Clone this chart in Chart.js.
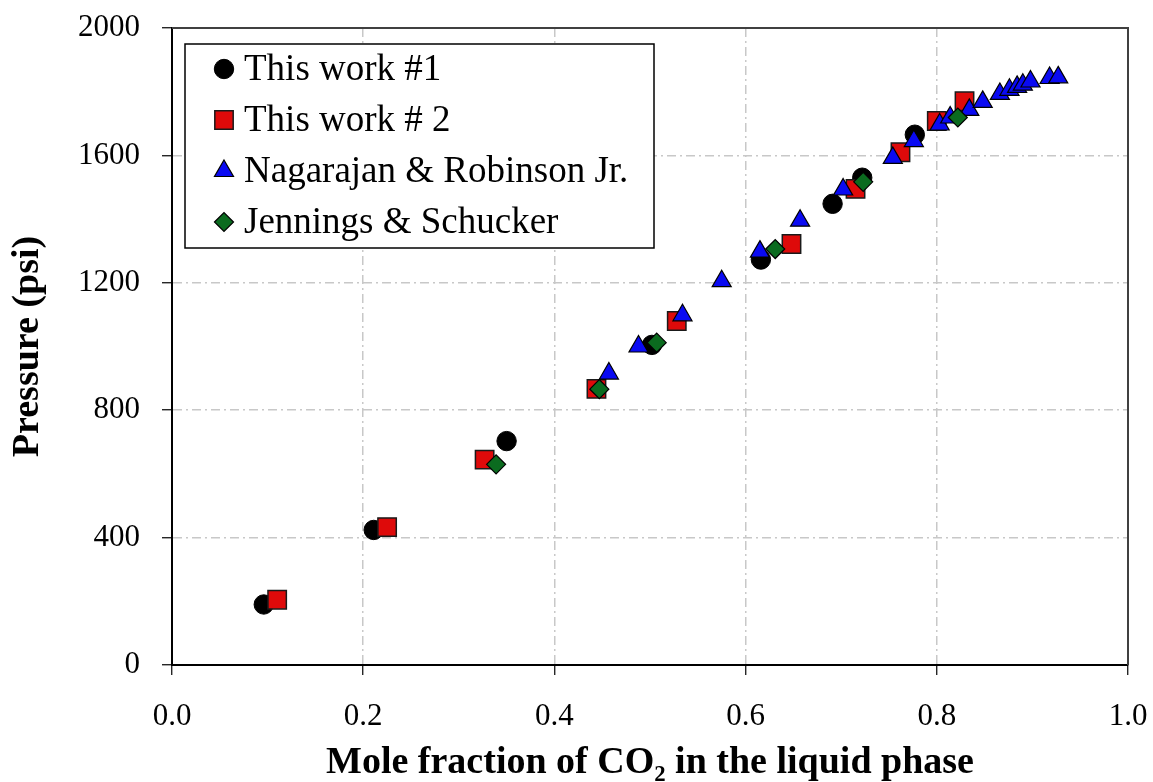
<!DOCTYPE html>
<html lang="en">
<head>
<meta charset="UTF-8">
<title>Pressure vs mole fraction of CO2</title>
<script src="https://cdn.jsdelivr.net/npm/chart.js"></script>
<style>
  html, body { margin: 0; padding: 0; background: #fff; }
  #wrap { width: 1153px; height: 782px; position: relative; }
</style>
</head>
<body>
<div id="wrap"><canvas id="co2Chart"></canvas></div>
<script>
// values (x = mole fraction CO2, y = pressure in psi)
const work1X = [0.096, 0.211, 0.350, 0.502, 0.616, 0.691, 0.722, 0.777];
const work1P = [190, 424, 703, 1005, 1273, 1448, 1530, 1665];

const work2X = [0.110, 0.225, 0.327, 0.444, 0.528, 0.648, 0.715, 0.762, 0.800, 0.829];
const work2P = [205, 433, 645, 867, 1080, 1322, 1495, 1610, 1708, 1770];

const nagarajanX = [0.457, 0.488, 0.534, 0.575, 0.615, 0.657, 0.702, 0.754, 0.776, 0.803,
                    0.814, 0.834, 0.848, 0.866, 0.876, 0.884, 0.890, 0.898, 0.918, 0.927];
const nagarajanP = [915, 1000, 1098, 1205, 1298, 1395, 1493, 1592, 1645, 1697,
                    1719, 1743, 1768, 1793, 1806, 1815, 1822, 1832, 1843, 1845];

const jenningsX = [0.339, 0.447, 0.507, 0.631, 0.723, 0.822];
const jenningsP = [630, 866, 1012, 1306, 1517, 1719];

const seriesNames = ['This work #1', 'This work # 2', 'Nagarajan & Robinson Jr.', 'Jennings & Schucker'];
const xTickLabels = ['0.0', '0.2', '0.4', '0.6', '0.8', '1.0'];
const yTickLabels = ['0', '400', '800', '1200', '1600', '2000'];
const xTitle = 'Mole fraction of CO\u2082 in the liquid phase';
const yTitle = 'Pressure (psi)';

const toPts = (xs, ys) => xs.map((x, i) => ({ x: x, y: ys[i] }));

const serif = '"Liberation Serif", "Times New Roman", serif';
const tickFont = { family: serif, size: 31 };
const gridGray = '#c8c8c8';

// dash-dot gridlines, hidden where they would sit on the frame
function gridColor(ctx) {
  if (!ctx.tick) return gridGray;
  const s = ctx.scale;
  if (ctx.tick.value === s.min || ctx.tick.value === s.max) return 'rgba(0,0,0,0)';
  return gridGray;
}

// top and right edges of the plot frame
const plotFrame = {
  id: 'plotFrame',
  beforeDatasetsDraw(chart) {
    const { ctx, chartArea: a } = chart;
    ctx.save();
    ctx.strokeStyle = '#404040';
    ctx.lineWidth = 2;
    ctx.beginPath();
    ctx.moveTo(a.left, a.top);
    ctx.lineTo(a.right, a.top);
    ctx.lineTo(a.right, a.bottom);
    ctx.stroke();
    ctx.restore();
  }
};

// boxed legend inside the plot, top left
const boxLegend = {
  id: 'boxLegend',
  afterDatasetsDraw(chart) {
    const { ctx, chartArea: a } = chart;
    const bx = a.left + 13, by = a.top + 16, bw = 469, bh = 204;
    ctx.save();
    ctx.fillStyle = '#fff';
    ctx.fillRect(bx, by, bw, bh);
    ctx.lineWidth = 1.5;
    ctx.strokeStyle = '#000';
    ctx.strokeRect(bx, by, bw, bh);
    ctx.font = '37px ' + serif;
    ctx.textAlign = 'left';
    ctx.textBaseline = 'alphabetic';
    chart.data.datasets.forEach((ds, i) => {
      const cx = bx + 39;
      const cy = by + 25 + i * 51;
      ctx.fillStyle = ds.backgroundColor;
      ctx.strokeStyle = ds.borderColor;
      ctx.lineWidth = ds.borderWidth;
      Chart.helpers.drawPoint(ctx, {
        pointStyle: ds.pointStyle, radius: ds.pointRadius, rotation: 0, borderWidth: ds.borderWidth
      }, cx, cy);
      ctx.fillStyle = '#000';
      ctx.fillText(ds.label, bx + 59, cy + 11);
    });
    ctx.restore();
  }
};

const ctx = document.getElementById('co2Chart').getContext('2d');
new Chart(ctx, {
  type: 'scatter',
  data: {
    datasets: [
      {
        label: seriesNames[0],
        data: toPts(work1X, work1P),
        pointStyle: 'circle',
        pointRadius: 9.7,
        backgroundColor: '#000000',
        borderColor: '#000000',
        borderWidth: 1,
        order: 4
      },
      {
        label: seriesNames[1],
        data: toPts(work2X, work2P),
        pointStyle: 'rect',
        pointRadius: 13,
        backgroundColor: '#de0a0a',
        borderColor: '#1a1a1a',
        borderWidth: 1.5,
        order: 3
      },
      {
        label: seriesNames[2],
        data: toPts(nagarajanX, nagarajanP),
        pointStyle: 'triangle',
        pointRadius: 11,
        backgroundColor: '#0a0af2',
        borderColor: '#000000',
        borderWidth: 1.2,
        order: 2
      },
      {
        label: seriesNames[3],
        data: toPts(jenningsX, jenningsP),
        pointStyle: 'rectRot',
        pointRadius: 9.5,
        backgroundColor: '#0b6b1f',
        borderColor: '#000000',
        borderWidth: 1.2,
        order: 1
      }
    ]
  },
  options: {
    responsive: true,
    maintainAspectRatio: false,
    animation: false,
    layout: { padding: { top: 28, right: 25, bottom: 0, left: 0 } },
    plugins: {
      legend: { display: false },
      tooltip: { enabled: false }
    },
    scales: {
      x: {
        type: 'linear',
        min: 0,
        max: 1,
        // fixed box size; drop the label overhang padding so the plot edges stay put
        afterFit: s => { s.height = 117; s.paddingLeft = 0; s.paddingRight = 0; },
        ticks: {
          stepSize: 0.2,
          padding: 23,
          color: '#000',
          font: tickFont,
          callback: (v, i) => xTickLabels[i]
        },
        grid: { color: gridColor, lineWidth: 1.5, tickLength: 10, tickColor: '#000', tickWidth: 1.2 },
        border: { display: true, color: '#000', width: 2, dash: [9, 4, 2, 4] },
        title: {
          display: true,
          text: xTitle,
          color: '#000',
          font: { family: serif, size: 38, weight: 'bold', lineHeight: 1 },
          padding: { top: 0, bottom: 0 }
        }
      },
      y: {
        type: 'linear',
        min: 0,
        max: 2000,
        afterFit: s => { s.width = 172; s.paddingTop = 0; s.paddingBottom = 0; },
        ticks: {
          stepSize: 400,
          padding: 22,
          color: '#000',
          font: tickFont,
          callback: (v, i) => yTickLabels[i]
        },
        grid: { color: gridColor, lineWidth: 1.5, tickLength: 10, tickColor: '#000', tickWidth: 1.2 },
        border: { display: true, color: '#000', width: 2, dash: [9, 4, 2, 4] },
        title: {
          display: true,
          text: yTitle,
          color: '#000',
          font: { family: serif, size: 38, weight: 'bold', lineHeight: 1 },
          padding: { top: 9, bottom: 0 }
        }
      }
    }
  },
  plugins: [plotFrame, boxLegend]
});
</script>
</body>
</html>
